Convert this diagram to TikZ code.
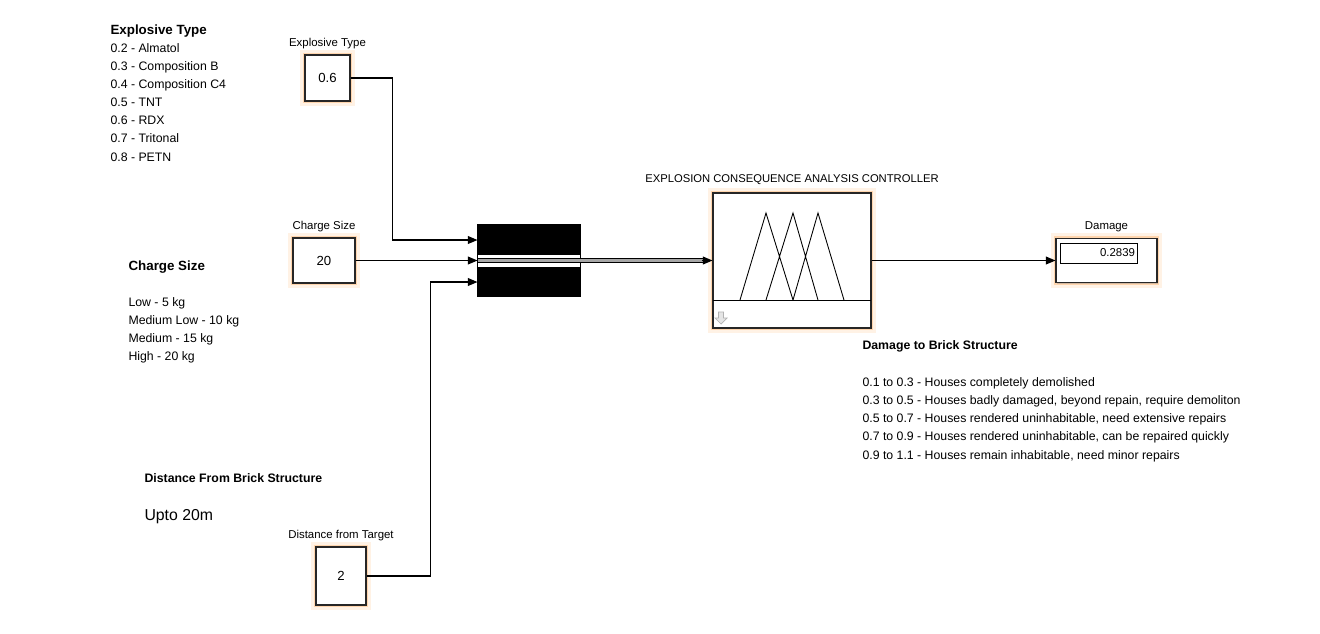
\documentclass[tikz,border=0pt]{standalone}
\usepackage{fontspec}
\setmainfont{Liberation Sans}
\usetikzlibrary{arrows.meta, positioning, calc, shadows}

\begin{document}
\begin{tikzpicture}[
    x=0.02cm, y=-0.02cm,
    >={Triangle[length=5.5pt,width=4.5pt]},
    line width=0.6pt,
    glow/.style={
      preaction={draw=orange!25, line width=6pt, opacity=0.4},
      preaction={draw=orange!50, line width=2.5pt, opacity=0.55}
    },
    block/.style={
      draw=black!85, fill=white, inner sep=0pt, glow,
      drop shadow={shadow xshift=0.8pt, shadow yshift=-0.8pt, opacity=0.35},
      font=\fontsize{7.5}{9}\selectfont
    },
    lbl/.style={inner sep=1pt, font=\fontsize{6.5}{8}\selectfont},
    head/.style={anchor=base west, inner sep=0pt, font=\fontsize{7}{9}\selectfont\bfseries},
    bighead/.style={head, font=\fontsize{7.6}{9}\selectfont\bfseries},
    item/.style={anchor=base west, inner sep=0pt, font=\fontsize{7}{9}\selectfont},
    bus/.style={draw=black, line width=0.55pt, double=gray!70, double distance=1.7pt}
]
    \useasboundingbox (0,0) rectangle (1320,633);

    % Legend texts
    \node[bighead] (etypeH) at (110,34) {Explosive Type};
    \foreach \t [count=\i] in {0.2 - Almatol, 0.3 - Composition B, 0.4 - Composition C4,
        0.5 - TNT, 0.6 - RDX, 0.7 - Tritonal, 0.8 - PETN}
      \node[item] (etype\i) at (110,{34+18.15*\i}) {\t};

    \node[bighead] (chargeH) at (128,270) {Charge Size};
    \foreach \t [count=\i] in {Low - 5 kg, Medium Low - 10 kg, Medium - 15 kg, High - 20 kg}
      \node[item] (charge\i) at (128,{288+18*\i}) {\t};

    \node[head] (distH) at (144,482) {Distance From Brick Structure};
    \node[item, font=\fontsize{9}{11}\selectfont] (distU) at (144,520) {Upto 20m};

    \node[head] (dmgH) at (862,349) {Damage to Brick Structure};
    \foreach \t [count=\i] in {{0.1 to 0.3 - Houses completely demolished},
        {0.3 to 0.5 - Houses badly damaged, beyond repain, require demoliton},
        {0.5 to 0.7 - Houses rendered uninhabitable, need extensive repairs},
        {0.7 to 0.9 - Houses rendered uninhabitable, can be repaired quickly},
        {0.9 to 1.1 - Houses remain inhabitable, need minor repairs}}
      \node[item] (dmg\i) at (862,{368+18.2*\i}) {\t};

    % Blocks
    \node[block, minimum width=0.9cm, minimum height=0.92cm] (etype) at (327.5,78) {0.6};
    \node[lbl, above=2pt of etype] (etypeL) {Explosive Type};

    \node[block, minimum width=1.24cm, minimum height=0.9cm] (charge) at (324,260.5) {20};
    \node[lbl, above=2pt of charge] (chargeL) {Charge Size};

    \node[block, minimum width=1cm, minimum height=1.16cm] (dist) at (341,576) {2};
    \node[lbl, above=2pt of dist] (distL) {Distance from Target};

    \node[draw, fill=black, minimum width=2.04cm, minimum height=1.42cm,
          drop shadow={shadow xshift=0.8pt, shadow yshift=-0.8pt, opacity=0.35}] (mux) at (529,260.5) {};
    \fill[white] ($(mux.west)+(1,-6)$) rectangle ($(mux.east)+(-1,6)$);

    \node[block, minimum width=3.16cm, minimum height=2.7cm] (fis) at (792,260.5) {};
    \node[lbl, font=\fontsize{6.4}{8}\selectfont, above=3pt of fis] (fisL) {EXPLOSION CONSEQUENCE ANALYSIS CONTROLLER};
    \draw[line width=0.5pt] (713,300) -- (871,300);
    \draw[line width=0.5pt] (740,300) -- (766,213) -- (793,300)
                            (766,300) -- (793,213) -- (818,300)
                            (793,300) -- (818,213) -- (844,300);
    \draw[gray!60, fill=gray!20, line width=0.4pt] (718.5,312) -- (723.5,312) -- (723.5,318) -- (727,318)
        -- (721,324) -- (715,318) -- (718.5,318) -- cycle;

    \node[block, minimum width=2.02cm, minimum height=0.88cm] (dmg) at (1106.5,260.5) {};
    \node[draw, fill=white, line width=0.5pt, minimum width=1.54cm, minimum height=0.4cm,
          inner sep=1pt, text width=1.46cm, align=right,
          font=\fontsize{6.5}{7}\selectfont] (dmgval) at (1098.5,253) {0.2839};
    \node[lbl, above=2pt of dmg] (dmgL) {Damage};

    % Mux inputs
    \coordinate (in1) at ($(mux.west)+(0,-20.5)$);
    \coordinate (in2) at (mux.west);
    \coordinate (in3) at ($(mux.west)+(0,21.5)$);

    % Connectors
    \draw[->] (etype.east) -- ++(42,0) |- (in1);
    \draw[->] (charge.east) -- (in2);
    \draw[->] (dist.east) -- ++(64,0) |- (in3);
    \draw[bus] ($(mux.west)+(1,0)$) -- ([xshift=-5pt]fis.west);
    \draw[->] ([xshift=-6pt]fis.west) -- (fis.west);
    \draw[->] (fis.east) -- (dmg.west);
\end{tikzpicture}
\end{document}
